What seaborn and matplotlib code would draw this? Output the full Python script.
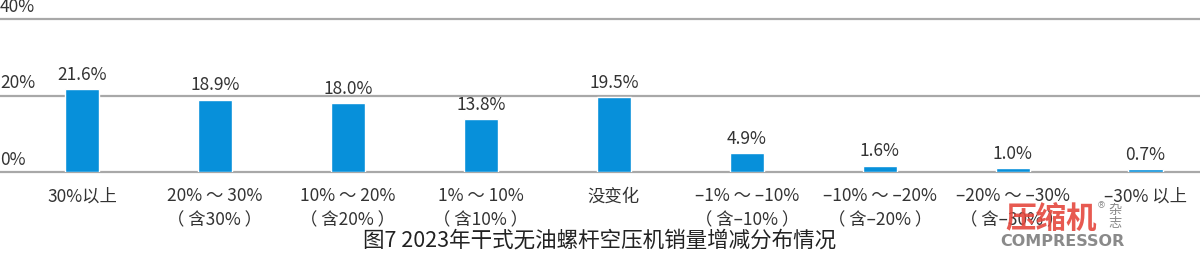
import matplotlib
matplotlib.use("Agg")
import matplotlib.pyplot as plt
import matplotlib.transforms as mtransforms
import seaborn as sns
import pandas as pd

categories = ["30%以上", "20% ～ 30%\n（ 含30% ）", "10% ～ 20%\n（ 含20% ）", "1% ～ 10%\n（ 含10% ）",
              "没变化", "–1% ～ –10%\n（ 含–10% ）", "–10% ～ –20%\n（ 含–20% ）",
              "–20% ～ –30%\n（ 含–30% ）", "–30% 以上"]
values = [21.6, 18.9, 18.0, 13.8, 19.5, 4.9, 1.6, 1.0, 0.7]
value_labels = ["21.6%", "18.9%", "18.0%", "13.8%", "19.5%", "4.9%", "1.6%", "1.0%", "0.7%"]
yticks = [0, 20, 40]
ytick_labels = ["0%", "20%", "40%"]
title = "图7 2023年干式无油螺杆空压机销量增减分布情况"

sns.set_theme(style="white")
plt.rcParams["font.family"] = ["Noto Sans CJK SC", "DejaVu Sans"]

df = pd.DataFrame({"cat": categories, "val": values})

fig = plt.figure(figsize=(12, 2.63), dpi=100)
ax = fig.add_axes([0, 1 - 172 / 263, 1, (172 - 19) / 263])
sns.barplot(data=df, x="cat", y="val", order=categories, color="#0790da",
            width=0.256, ax=ax, saturation=1)
ax.set_xlim(-0.617, 8.41)
ax.set_ylim(0, 40)
for s in ax.spines.values():
    s.set_visible(False)
ax.set_xlabel("")
ax.set_ylabel("")
ax.set_yticks([])
ax.tick_params(axis="x", length=0, pad=11)
ax.set_xticks(range(len(categories)))
ax.set_xticklabels(categories, fontsize=12.5, color="#333333", linespacing=1.4, va="top")

for v in yticks:
    ax.axhline(v, color="#a8a8a8", lw=1.6, zorder=0, clip_on=False)
trans = mtransforms.blended_transform_factory(ax.transAxes, ax.transData)
for v, lab in zip(yticks, ytick_labels):
    ax.text(0.0, v, lab, ha="left", va="bottom", fontsize=12.5, color="#333333",
            transform=trans + mtransforms.ScaledTranslation(0, 3 / 100, fig.dpi_scale_trans))

for i, (v, lab) in enumerate(zip(values, value_labels)):
    ax.annotate(lab, (i, v), xytext=(0, 4), textcoords="offset points", ha="center",
                va="bottom", fontsize=12.5, color="#333333")

fig.text(0.5, 1 - 241 / 263, title, ha="center", va="center", fontsize=15.5, color="#222222")

# watermark logo
fig.text(1051 / 1200, 1 - 219 / 263, "压缩机", ha="center", va="center", fontsize=22,
         fontweight="bold", color="#e5483e", alpha=0.9)
fig.text(1062 / 1200, 1 - 242 / 263, "COMPRESSOR", ha="center", va="center", fontsize=11.5,
         fontweight="bold", color="#8a8a8a", family=["DejaVu Sans"])
fig.text(1115 / 1200, 1 - 217 / 263, "杂\n志", ha="center", va="center", fontsize=9.5,
         color="#8a8a8a", linespacing=0.95)
fig.text(1101 / 1200, 1 - 206 / 263, "®", ha="center", va="center", fontsize=6.5, color="#8a8a8a",
         family=["DejaVu Sans"])

fig.savefig("out.png", dpi=100)
